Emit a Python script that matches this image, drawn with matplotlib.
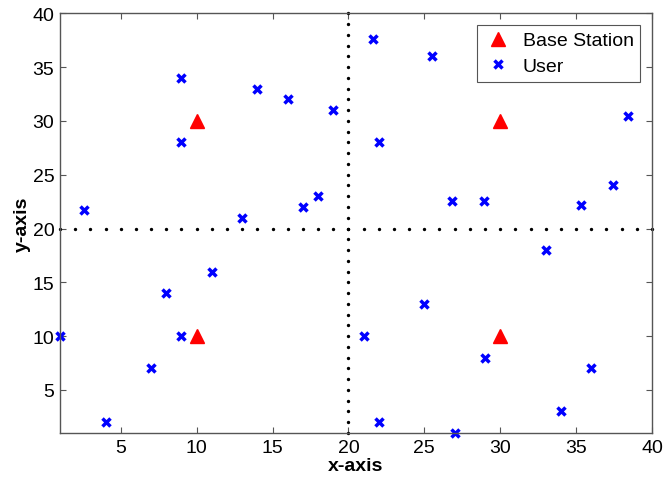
import numpy as np
import matplotlib
matplotlib.use("Agg")
import matplotlib.pyplot as plt

plt.rcParams['font.family'] = ['Liberation Sans', 'DejaVu Sans']

# base stations
bs_x = [10, 30, 10, 30]
bs_y = [30, 30, 10, 10]

# users
user_x = [1, 2.6, 4, 7, 8, 9, 9, 9, 11, 13, 14, 16, 17, 18, 19,
          21, 21.6, 22, 22, 25, 25.5, 26.8, 27, 28.9, 29, 33, 34, 35.3, 36, 37.4, 38.4]
user_y = [10, 21.7, 2, 7, 14, 10, 28, 34, 16, 21, 33, 32, 22, 23, 31,
          10, 37.6, 28, 2, 13, 36, 22.6, 1, 22.6, 8, 18, 3, 22.2, 7, 24, 30.5]

# cell boundaries
grid_pts = np.arange(1, 41)
boundary = 20

fig = plt.figure(figsize=(6.63, 4.85), dpi=100)
ax = fig.add_axes([0.0905, 0.1052, 0.8929, 0.8653])

ax.plot(boundary * np.ones(len(grid_pts)), grid_pts, 'k.', markersize=2.8, clip_on=False)
ax.plot(grid_pts, boundary * np.ones(len(grid_pts)), 'k.', markersize=2.8, clip_on=False)
ax.plot(bs_x, bs_y, '^', color='red', markersize=10, linestyle='none', label='Base Station')
ax.plot(user_x, user_y, 'x', color='blue', markersize=6, markeredgewidth=2.5,
        linestyle='none', label='User', clip_on=False)

ax.set_xlim(1, 40)
ax.set_ylim(1, 40)
ax.set_xticks(range(5, 41, 5))
ax.set_yticks(range(5, 41, 5))
ax.tick_params(direction='in', top=True, right=True, length=4, labelsize=14,
               color='#555555', pad=4)
for s in ax.spines.values():
    s.set_color('#555555')
    s.set_linewidth(1.0)

ax.set_xlabel('x-axis', fontsize=14, fontweight='bold', labelpad=1)
ax.set_ylabel('y-axis', fontsize=14, fontweight='bold', labelpad=1)

leg = ax.legend(loc='upper right', fontsize=14, fancybox=False, framealpha=1,
                edgecolor='#555555', handlelength=1.5, handletextpad=0.5,
                borderpad=0.35, labelspacing=0.4, borderaxespad=0.6)
leg.get_frame().set_linewidth(0.8)

fig.savefig('out.png', dpi=100)
